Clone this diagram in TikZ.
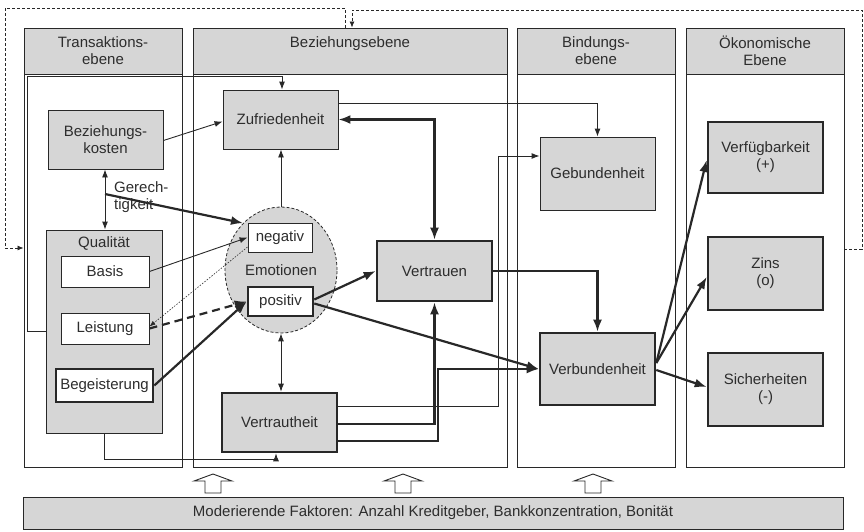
\documentclass[tikz,border=0pt]{standalone}
\usepackage{fontspec}
\setmainfont{Liberation Sans}
\usetikzlibrary{arrows.meta,calc,shapes.geometric}
\definecolor{boxgray}{RGB}{214,214,214}
\definecolor{lc}{RGB}{40,40,40}
\definecolor{tc}{RGB}{45,45,45}
\begin{document}
\begin{tikzpicture}[x=1pt,y=-1pt,
  fs/.style={font=\fontsize{15}{17}\selectfont},
  ln/.style={draw=lc, line width=0.9pt},
  gbox/.style={draw=lc, fill=boxgray, line width=0.9pt, inner sep=0pt, align=center, fs, text=tc, minimum width=115pt},
  tbox/.style={gbox, line width=2.6pt},
  wbox/.style={gbox, fill=white, minimum width=88pt, minimum height=31pt},
  hdr/.style={draw=lc, fill=boxgray, line width=0.9pt, inner sep=0pt, align=center, fs, text=tc, minimum height=46pt},
  txt/.style={inner sep=0pt, fs, text=tc, align=center},
  arr/.style={ln, -{Latex[length=8pt,width=6pt]}},
  darr/.style={ln, {Latex[length=8pt,width=6pt]}-{Latex[length=8pt,width=6pt]}},
  tarr/.style={draw=lc, line width=2.2pt, -{Latex[length=12pt,width=9pt]}},
  tdarr/.style={draw=lc, line width=2.2pt, {Latex[length=12pt,width=9pt]}-{Latex[length=12pt,width=9pt]}},
  fb/.style={draw=lc, line width=0.8pt, dash pattern=on 3pt off 2pt},
]
\useasboundingbox (0,0) rectangle (864,531);

% columns
\draw[ln] (24,74) rectangle (182,467);
\draw[ln] (193,74) rectangle (507,467);
\draw[ln] (517,74) rectangle (675,467);
\draw[ln] (686,74) rectangle (844,467);
\node[hdr, minimum width=158pt] (hT) at (103,51) {Transaktions-\\ebene};
\node[hdr, minimum width=314pt] (hB) at (350,51) {};
\node[txt] (hBt) at (350,44) {Beziehungsebene};
\node[hdr, minimum width=158pt] (hD) at (596,51) {Bindungs-\\ebene};
\node[hdr, minimum width=158pt] (hO) at (765,51) {Ökonomische\\Ebene};

% Transaktionsebene
\node[gbox, minimum height=59pt] (bk) at (105.5,139.5) {Beziehungs-\\kosten};
\node[gbox, minimum width=116pt, minimum height=203pt] (qual) at (104,331.5) {};
\node[txt] (qualt) at (104,243) {Qualität};
\node[wbox] (basis) at (105,271.5) {Basis};
\node[wbox] (leis) at (105,328.5) {Leistung};
\node[wbox, line width=2.6pt, minimum width=97pt, minimum height=33pt] (beg) at (104.5,385.5) {Begeisterung};

% Beziehungsebene
\node[gbox, minimum height=59pt] (zu) at (280.5,119.5) {Zufriedenheit};
\node[ellipse, draw=lc, fill=boxgray, line width=0.8pt, dash pattern=on 3pt off 2pt, minimum width=112pt, minimum height=126pt, inner sep=0pt, fs, text=tc] (emo) at (281,270) {Emotionen};
\node[wbox, minimum width=64pt, minimum height=29pt] (neg) at (280,237.5) {negativ};
\node[wbox, line width=2.6pt, minimum width=65pt, minimum height=29pt] (pos) at (280.5,301.5) {positiv};
\node[tbox, minimum height=60pt] (vt) at (434.5,271) {Vertrauen};
\node[tbox, minimum height=59pt] (vh) at (279.5,422.5) {Vertrautheit};

% Bindungsebene
\node[gbox, minimum height=73pt] (geb) at (597.5,173.5) {Gebundenheit};
\node[tbox, minimum height=72pt] (vb) at (597.5,369) {Verbundenheit};

% Oekonomische Ebene
\node[tbox, minimum height=71pt] (vf) at (765.5,157.5) {Verfügbarkeit\\(+)};
\node[tbox, minimum height=73pt] (zi) at (765.5,273.5) {Zins\\(o)};
\node[tbox, minimum height=73pt] (si) at (765.5,389.5) {Sicherheiten\\(-)};

% bottom bar
\node[gbox, minimum width=820pt, minimum height=32pt] (mod) at (433,513) {Moderierende Faktoren: Anzahl Kreditgeber, Bankkonzentration, Bonität};
\foreach \cx in {213,403,593}
  \draw[ln, fill=white] (\cx-8,493) -- (\cx-8,481) -- (\cx-19,481) -- (\cx,474) -- (\cx+19,481) -- (\cx+8,481) -- (\cx+8,493) -- cycle;

% helper coordinates
\coordinate (fbA) at (27,76);
\coordinate (g0) at (105,194);
\coordinate (k1) at (438,369);
\coordinate (k2) at (498,156);
\coordinate (k3) at (276,459);

% connectors
\draw[arr] ([yshift=-1pt]bk.east) -- ([yshift=-2pt]zu.west);
\draw[darr] (bk.south -| g0) -- (qual.north -| g0);
\draw[tarr] (g0) -- (emo.129);
\node[txt, anchor=west, align=left] (ger) at (114,197) {Gerech-\\tigkeit};
\draw[arr] (qual.west) -| (fbA) -| ([xshift=1.5pt]zu.north);
\draw[arr] ([yshift=16.5pt]zu.east) -| (geb.north);
\draw[arr] (emo.north) -- (emo.north |- zu.south);
\draw[arr] (basis.east) -- (neg.west);
\draw[draw=lc, line width=0.6pt, dash pattern=on 1.5pt off 1.5pt, -{Latex[length=6pt,width=4.5pt]}] ([yshift=-9.5pt]neg.west) -- ([yshift=2pt]leis.east);
\draw[tarr, dash pattern=on 8pt off 5pt] (leis.east) -- (pos.west);
\draw[tarr] (beg.east) -- (pos.west);
\draw[tarr] ([yshift=2pt]pos.east) -- (vt.west);
\draw[tarr] ([yshift=-2pt]pos.east) -- (vb.west);
\draw[darr] (emo.south) -- (emo.south |- vh.north);
\draw[tdarr] (zu.east) -| (vt.north);
\draw[tarr] (vt.east) -| (vb.north);
\draw[tarr] ([yshift=-1.5pt]vh.east) -| (vt.south);
\draw[tarr] ([yshift=-18.5pt]vh.east) -| (k1) -- (vb.west);
\draw[arr] ([yshift=16.5pt]vh.east) -| (k2) -- (k2 -| geb.west);
\draw[arr] (qual.south) |- (k3) -- (k3 |- vh.south);
\draw[tarr] ([yshift=6pt]vb.east) -- ([yshift=-2.5pt]vf.west);
\draw[tarr] ([yshift=6pt]vb.east) -- ([yshift=-3.5pt]zi.west);
\draw[tarr] ([yshift=-1pt]vb.east) -- ([yshift=2.5pt]si.west);

% feedback loops (dashed)
\coordinate (fa1) at (345,8);
\coordinate (fa2) at (5,248);
\coordinate (fb1) at (862,249);
\coordinate (fb2) at (352,10);
\draw[fb, -{Latex[length=6pt,width=5pt]}] (hB.north -| fa1) -- (fa1) -| (fa2) -- (fa2 -| hT.west);
\draw[fb, -{Latex[length=6pt,width=5pt]}] (fb1 -| hO.east) -- (fb1) |- (fb2) -- (fb2 |- hB.north);
\end{tikzpicture}
\end{document}
